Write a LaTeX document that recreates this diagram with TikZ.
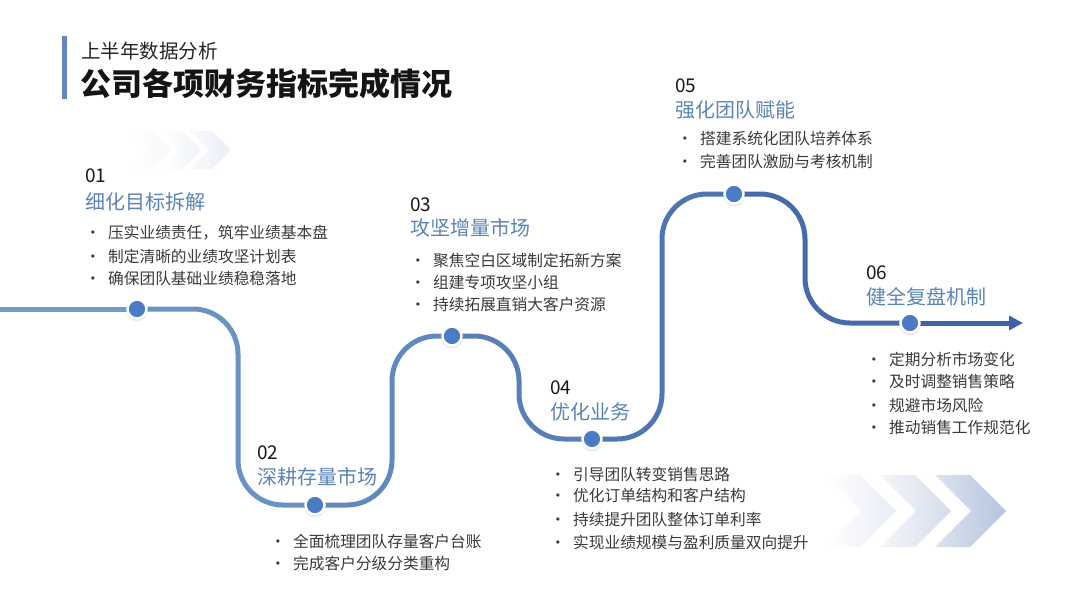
\documentclass[tikz,border=0pt]{standalone}
\usepackage{fontspec}
\setmainfont{Noto Sans CJK SC}
\usepackage{xcolor}
\usetikzlibrary{arrows.meta,shadows,positioning,calc}

\definecolor{lineA}{HTML}{729CC8}
\definecolor{lineB}{HTML}{3E62A8}
\definecolor{headblue}{HTML}{5A85B5}
\definecolor{dotblue}{HTML}{4A7BC4}
\definecolor{bodygrey}{HTML}{3A3A3A}
\definecolor{barblue}{HTML}{6286BD}
\definecolor{chev}{HTML}{B2C1DC}

\tikzset{
  stagedot/.style={circle, fill=dotblue, draw=white, line width=2.5pt,
    minimum size=19pt, inner sep=0pt,
    drop shadow={opacity=0.18, shadow xshift=0pt, shadow yshift=-1.5pt, shadow scale=1.12}},
  stagenum/.style={anchor=west, inner sep=0pt, font=\fontsize{19}{19}\selectfont, text=black!90},
  stagehead/.style={anchor=west, inner sep=0pt, font=\fontsize{20}{20}\selectfont, text=headblue},
  stageitem/.style={anchor=west, inner sep=0pt, font=\fontsize{15.7}{15.7}\selectfont, text=bodygrey},
  road/.style={line width=5pt, rounded corners=45pt},
}
\newcommand{\bul}{\makebox[23pt][l]{•}}

\begin{document}
\begin{tikzpicture}[x=1pt, y=-1pt]
    \fill[white] (0,0) rectangle (1080,608);
    \useasboundingbox (0,0) rectangle (1080,608);

    % Title
    \fill[barblue] (62,36) rectangle (67,99);
    \node[anchor=west, inner sep=0pt, font=\fontsize{19.5}{19.5}\selectfont, text=black!85] (sub) at (81,51) {上半年数据分析};
    \node[anchor=west, inner sep=0pt, font=\fontsize{31}{31}\selectfont\bfseries, text=black!92] (title) at (80,84) {公司各项财务指标完成情况};

    % Chevrons (top left)
    \shade[left color=white, right color=chev!12] (130,131) -- (152,131) -- (171,150) -- (152,169) -- (130,169) -- (149,150) -- cycle;
    \shade[left color=white, right color=chev!20] (160,131) -- (182,131) -- (201,150) -- (182,169) -- (160,169) -- (179,150) -- cycle;
    \shade[left color=chev!8, right color=chev!28] (190,131) -- (212,131) -- (231,150) -- (212,169) -- (190,169) -- (209,150) -- cycle;

    % Chevrons (bottom right)
    \shade[left color=white, right color=chev!30] (825,475) -- (860,475) -- (896,511) -- (860,547) -- (825,547) -- (861,511) -- cycle;
    \shade[left color=chev!15, right color=chev!55] (880,475) -- (915,475) -- (951,511) -- (915,547) -- (880,547) -- (916,511) -- cycle;
    \shade[left color=chev!45, right color=chev!95] (935,475) -- (970,475) -- (1006,511) -- (970,547) -- (935,547) -- (971,511) -- cycle;

    % Stage points and turning columns
    \coordinate (p0) at (0,309);
    \coordinate (p1) at (137,309);
    \coordinate (p2) at (315,505);
    \coordinate (p3) at (452,336);
    \coordinate (p4) at (592,439);
    \coordinate (p5) at (734,194);
    \coordinate (p6) at (910,323);
    \coordinate (pend) at (1023,323);
    \coordinate (c1) at (238,0);
    \coordinate (c2) at (392,0);
    \coordinate (c3) at (519,0);
    \coordinate (c4) at (662,0);
    \coordinate (c5) at (805,0);

    % Road
    \draw[road, lineA] (p0) -- (p1);
    \draw[road, lineB!15!lineA] (p1) -- (p1 -| c1) -- (p2 -| c1) -- (p2);
    \draw[road, lineB!32!lineA] (p2) -- (p2 -| c2) -- (p3 -| c2) -- (p3);
    \draw[road, lineB!50!lineA] (p3) -- (p3 -| c3) -- (p4 -| c3) -- (p4);
    \draw[road, lineB!68!lineA] (p4) -- (p4 -| c4) -- (p5 -| c4) -- (p5);
    \draw[road, lineB!85!lineA] (p5) -- (p5 -| c5) -- (p6 -| c5) -- (p6);
    \draw[road, lineB, -{Triangle[length=14pt, width=14pt]}] (p6) -- (pend);

    \node[stagedot] (d1) at (p1) {};
    \node[stagedot] (d2) at (p2) {};
    \node[stagedot] (d3) at (p3) {};
    \node[stagedot] (d4) at (p4) {};
    \node[stagedot] (d5) at (p5) {};
    \node[stagedot] (d6) at (p6) {};

    % Stage 01
    \node[stagenum] (n1) at (85,176) {01};
    \node[stagehead] (h1) at (85,202) {细化目标拆解};
    \node[stageitem] (i11) at (85,233) {\bul 压实业绩责任，筑牢业绩基本盘};
    \node[stageitem] (i12) at (85,256) {\bul 制定清晰的业绩攻坚计划表};
    \node[stageitem] (i13) at (85,279) {\bul 确保团队基础业绩稳稳落地};

    % Stage 02
    \node[stagenum] (n2) at (257,453) {02};
    \node[stagehead] (h2) at (257,477) {深耕存量市场};
    \node[stageitem] (i21) at (270,541) {\bul 全面梳理团队存量客户台账};
    \node[stageitem] (i22) at (270,564) {\bul 完成客户分级分类重构};

    % Stage 03
    \node[stagenum] (n3) at (410,205) {03};
    \node[stagehead] (h3) at (410,228) {攻坚增量市场};
    \node[stageitem] (i31) at (410,261) {\bul 聚焦空白区域制定拓新方案};
    \node[stageitem] (i32) at (410,283) {\bul 组建专项攻坚小组};
    \node[stageitem] (i33) at (410,305) {\bul 持续拓展直销大客户资源};

    % Stage 04
    \node[stagenum] (n4) at (550,388) {04};
    \node[stagehead] (h4) at (550,412) {优化业务};
    \node[stageitem] (i41) at (550,474) {\bul 引导团队转变销售思路};
    \node[stageitem] (i42) at (550,496) {\bul 优化订单结构和客户结构};
    \node[stageitem] (i43) at (550,519) {\bul 持续提升团队整体订单利率};
    \node[stageitem] (i44) at (550,542) {\bul 实现业绩规模与盈利质量双向提升};

    % Stage 05
    \node[stagenum] (n5) at (675,86) {05};
    \node[stagehead] (h5) at (675,110) {强化团队赋能};
    \node[stageitem] (i51) at (677,139) {\bul 搭建系统化团队培养体系};
    \node[stageitem] (i52) at (677,162) {\bul 完善团队激励与考核机制};

    % Stage 06
    \node[stagenum] (n6) at (866,273) {06};
    \node[stagehead] (h6) at (866,297) {健全复盘机制};
    \node[stageitem] (i61) at (866,359) {\bul 定期分析市场变化};
    \node[stageitem] (i62) at (866,382) {\bul 及时调整销售策略};
    \node[stageitem] (i63) at (866,405) {\bul 规避市场风险};
    \node[stageitem] (i64) at (866,428) {\bul 推动销售工作规范化};
\end{tikzpicture}
\end{document}
